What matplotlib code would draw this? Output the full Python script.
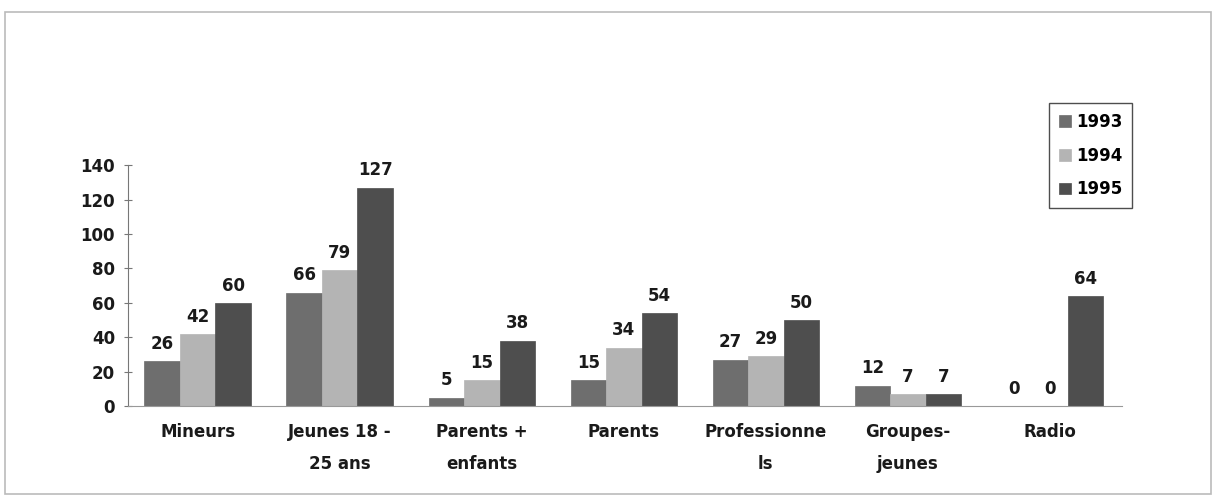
import matplotlib.pyplot as plt
import numpy as np
from matplotlib.patches import Rectangle

plt.rcParams['font.family'] = ['DejaVu Sans']
plt.rcParams['font.weight'] = 'bold'

categories = ["Mineurs", "Jeunes 18 -\n25 ans", "Parents +\nenfants", "Parents",
              "Professionne\nls", "Groupes-\njeunes", "Radio"]
years = ["1993", "1994", "1995"]
v1993 = [26, 66, 5, 15, 27, 12, 0]
v1994 = [42, 79, 15, 34, 29, 7, 0]
v1995 = [60, 127, 38, 54, 50, 7, 64]
colors = ["#6e6e6e", "#b4b4b4", "#4e4e4e"]

fig = plt.figure(figsize=(12.16, 4.99), dpi=100)
ax = fig.add_axes([0.105, 0.186, 0.818, 0.483])

x = np.arange(len(categories))
w = 0.25
for i, (vals, c, lab) in enumerate(zip([v1993, v1994, v1995], colors, years)):
    bars = ax.bar(x + (i - 1) * w, vals, w, color=c, label=lab,
                  edgecolor=c, linewidth=0.5)
    for b, v in zip(bars, vals):
        ax.annotate(str(v), (b.get_x() + b.get_width() / 2, v),
                    xytext=(0, 6), textcoords="offset points",
                    ha="center", va="bottom", fontsize=12, fontweight="bold",
                    color="#1a1a1a")

ax.set_ylim(0, 140)
ax.set_xlim(-0.493, 6.51)
ax.set_yticks(range(0, 141, 20))
ax.set_xticks(x)
ax.set_xticklabels(categories, fontsize=12, fontweight="bold", color="#1a1a1a",
                   linespacing=2.0)
ax.tick_params(axis="x", length=0, pad=12)
ax.tick_params(axis="y", direction="inout", length=6, color="#777777",
               labelsize=12, labelcolor="#1a1a1a", pad=6)
for lbl in ax.get_yticklabels():
    lbl.set_fontweight("bold")
for s in ["top", "right"]:
    ax.spines[s].set_visible(False)
ax.spines["left"].set_color("#777777")
ax.spines["bottom"].set_color("#999999")

leg = ax.legend(loc="upper right", bbox_to_anchor=(0.931, 0.794),
                bbox_transform=fig.transFigure, fontsize=12, borderaxespad=0,
                handlelength=0.7, handleheight=0.7, handletextpad=0.3,
                labelspacing=0.95, borderpad=0.6, frameon=True, fancybox=False)
leg.get_frame().set_edgecolor("#222222")
leg.get_frame().set_linewidth(1.0)
for t in leg.get_texts():
    t.set_fontweight("bold")

# outer frame of the chart area
fig.patches.append(Rectangle((0.004, 0.01), 0.992, 0.965, transform=fig.transFigure,
                             fill=False, edgecolor="#bbbbbb", linewidth=1.2))

fig.savefig("out.png", dpi=100)
